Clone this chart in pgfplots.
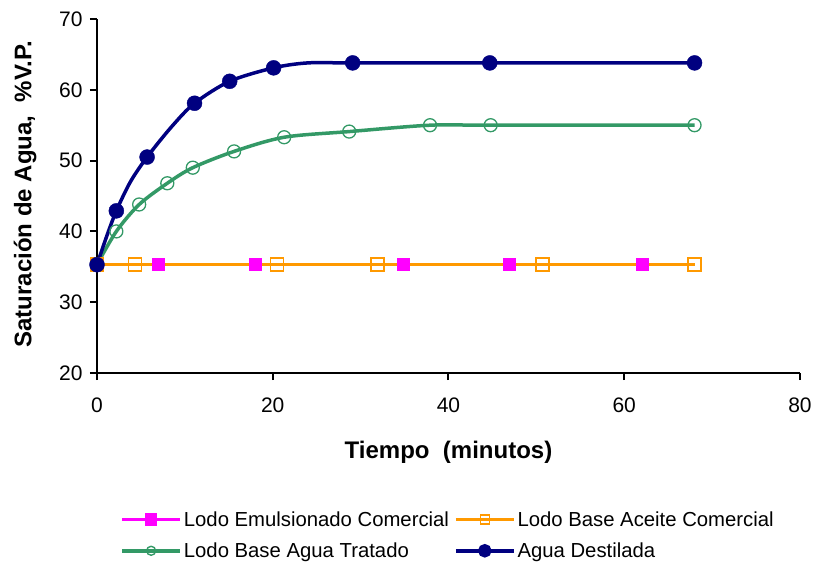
\documentclass[border=0pt]{standalone}
\usepackage{fontspec}
\setmainfont{Liberation Sans}
\usepackage{pgfplots}
\pgfplotsset{compat=1.18}
\definecolor{navy}{RGB}{0,0,128}
\definecolor{sgreen}{RGB}{51,153,102}
\definecolor{xorange}{RGB}{255,153,0}
\definecolor{xmag}{RGB}{255,0,255}

\begin{document}
\begin{tikzpicture}
\useasboundingbox (-97bp,-194bp) rectangle (719bp,373bp);
\begin{axis}[
 at={(0,0)}, anchor=south west,
 scale only axis, width=703bp, height=354bp,
 xmin=0, xmax=80, ymin=20, ymax=70,
 xtick={0,20,...,80}, ytick={20,30,...,70},
 axis x line*=bottom, axis y line*=left,
 hide obscured x ticks=false, hide obscured y ticks=false,
 axis line style={line width=2.2bp, black},
 tick align=outside, major tick length=7bp,
 tick style={line width=2bp, black},
 /pgf/number format/assume math mode=true,
 tick label style={font=\fontsize{21bp}{24bp}\selectfont},
 xticklabel style={yshift=-14bp},
 yticklabel style={xshift=-4bp},
 xlabel={\textbf{Tiempo\ \ (minutos)}},
 ylabel={\textbf{Saturación de Agua,\ \ \%V.P.}},
 label style={font=\fontsize{24bp}{28bp}\selectfont},
 xlabel style={at={(axis description cs:0.5,-0.223)}, anchor=center},
 ylabel style={at={(axis description cs:-0.1024,0.505)}, anchor=center},
 legend columns=2,
 legend cell align=left,
 legend style={at={(0.033,-0.385)}, anchor=north west, draw=none,
   font=\fontsize{20.3bp}{24bp}\selectfont,
   /tikz/every even column/.append style={column sep=3bp},
   row sep=11bp, inner sep=0pt},
 legend image code/.code={\draw[mark repeat=2, mark phase=2] plot coordinates {(0bp,0bp) (29bp,0bp) (58bp,0bp)};},
]
% lines
\addplot[xmag, line width=3.5bp, forget plot] coordinates {(0,35.3) (62,35.3)};
\addplot[xorange, line width=3.5bp, forget plot] coordinates {(0,35.3) (68,35.3)};
\addplot[sgreen, line width=3.5bp, smooth, forget plot] coordinates {
 (0,35.3) (2.2,40.0) (4.8,43.8) (8.0,46.8) (10.9,49.0) (15.6,51.3) (21.3,53.3) (28.7,54.1) (37.9,55.0) (44.8,55.0) (68,55.0)};
\addplot[navy, line width=3.5bp, smooth, forget plot] coordinates {
 (0,35.3) (1.1,39.3) (2.2,42.9) (3.8,47.0) (5.7,50.5) (8.5,54.8) (11.1,58.1) (15.1,61.2) (20.1,63.1) (24,63.8) (29.1,63.8) (44.7,63.8) (68,63.8)};
% markers
\addplot[only marks, mark=square*, mark size=6bp, color=xmag, forget plot] coordinates {
 (0,35.3) (7.0,35.3) (18.0,35.3) (34.8,35.3) (46.9,35.3) (62,35.3)};
\addplot[only marks, mark=square, mark size=6.5bp, color=xorange, mark options={line width=1.5bp, fill=none}, forget plot] coordinates {
 (0,35.3) (4.3,35.3) (20.5,35.3) (31.9,35.3) (50.7,35.3) (68,35.3)};
\addplot[only marks, mark=o, mark size=6.5bp, color=sgreen, mark options={line width=1.3bp, fill=none}, forget plot] coordinates {
 (0,35.3) (2.2,40.0) (4.8,43.8) (8.0,46.8) (10.9,49.0) (15.6,51.3) (21.3,53.3) (28.7,54.1) (37.9,55.0) (44.8,55.0) (68,55.0)};
\addplot[only marks, mark=*, mark size=7.5bp, color=navy, forget plot] coordinates {
 (0,35.3) (2.2,42.9) (5.7,50.5) (11.1,58.1) (15.1,61.2) (20.1,63.1) (29.1,63.8) (44.7,63.8) (68,63.8)};
% legend
\addlegendimage{xmag, line width=3.5bp, mark=square*, mark size=4.5bp}
\addlegendentry{Lodo Emulsionado Comercial}
\addlegendimage{xorange, line width=3.5bp, mark=square, mark size=4.5bp, mark options={line width=1.4bp, fill=white}}
\addlegendentry{Lodo Base Aceite Comercial}
\addlegendimage{sgreen, line width=3.5bp, mark=o, mark size=4.5bp, mark options={line width=1.4bp, fill=white}}
\addlegendentry{Lodo Base Agua Tratado}
\addlegendimage{navy, line width=3.5bp, mark=*, mark size=5bp}
\addlegendentry{Agua Destilada}
\end{axis}
\end{tikzpicture}
\end{document}
